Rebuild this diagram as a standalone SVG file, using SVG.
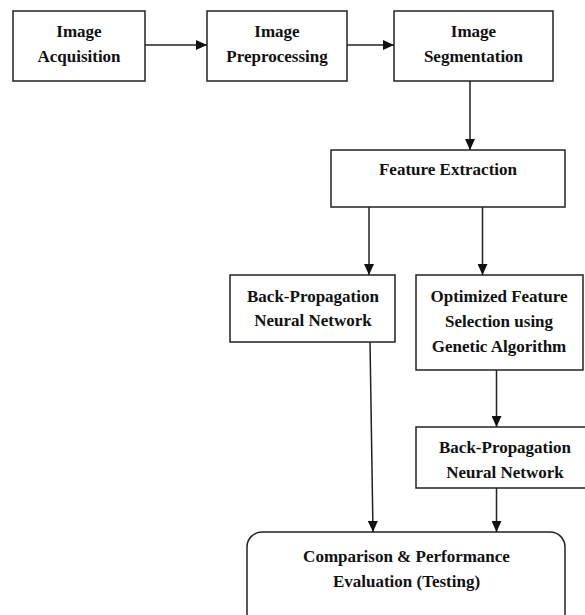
<svg xmlns="http://www.w3.org/2000/svg" width="585" height="615" viewBox="0 0 585 615">
<style>
.box{fill:#fff;stroke:#222;stroke-width:1.5}
.t{font-family:"Liberation Serif","Times New Roman",serif;font-weight:bold;font-size:17px;fill:#111;text-anchor:middle}
.c{stroke:#222;stroke-width:1.5;fill:none}
</style>
<defs>
<marker id="ah" markerUnits="userSpaceOnUse" markerWidth="12" markerHeight="10" refX="11" refY="5" orient="auto">
<path d="M0,0 L11,5 L0,10 Z" fill="#111"/>
</marker>
</defs>
<rect width="585" height="615" fill="#fff"/>
<g id="connectors">
<line class="c" x1="145" y1="45" x2="207" y2="45" marker-end="url(#ah)"/>
<line class="c" x1="347" y1="45" x2="394" y2="45" marker-end="url(#ah)"/>
<line class="c" x1="470" y1="81" x2="470" y2="150" marker-end="url(#ah)"/>
<line class="c" x1="369" y1="207" x2="369" y2="275" marker-end="url(#ah)"/>
<line class="c" x1="482.5" y1="207" x2="482.5" y2="275" marker-end="url(#ah)"/>
<line class="c" x1="370" y1="342" x2="373" y2="532" marker-end="url(#ah)"/>
<line class="c" x1="496.5" y1="370" x2="496.5" y2="427" marker-end="url(#ah)"/>
<line class="c" x1="496.5" y1="488" x2="496.5" y2="532" marker-end="url(#ah)"/>
</g>
<g id="acq">
<rect class="box" x="13" y="11" width="132" height="70"/>
<text class="t" x="79" y="37">Image</text>
<text class="t" x="79" y="62">Acquisition</text>
</g>
<g id="pre">
<rect class="box" x="207" y="11" width="140" height="70"/>
<text class="t" x="277" y="37">Image</text>
<text class="t" x="277" y="62">Preprocessing</text>
</g>
<g id="seg">
<rect class="box" x="394" y="11" width="159" height="70"/>
<text class="t" x="473.5" y="37">Image</text>
<text class="t" x="473.5" y="62">Segmentation</text>
</g>
<g id="fe">
<rect class="box" x="331" y="150" width="234" height="57"/>
<text class="t" x="448" y="175">Feature Extraction</text>
</g>
<g id="bpnn1">
<rect class="box" x="230" y="275" width="165" height="67"/>
<text class="t" x="313" y="302">Back-Propagation</text>
<text class="t" x="313" y="326">Neural Network</text>
</g>
<g id="ofs">
<rect class="box" x="416" y="275" width="167" height="95"/>
<text class="t" x="499" y="302">Optimized Feature</text>
<text class="t" x="499" y="327">Selection using</text>
<text class="t" x="499" y="352">Genetic Algorithm</text>
</g>
<g id="bpnn2">
<rect class="box" x="416" y="427" width="178" height="61"/>
<text class="t" x="505" y="453">Back-Propagation</text>
<text class="t" x="505" y="478">Neural Network</text>
</g>
<g id="cmp">
<rect class="box" x="247" y="532" width="318" height="100" rx="15" ry="15"/>
<text class="t" x="406.5" y="562">Comparison &amp; Performance</text>
<text class="t" x="406.5" y="587">Evaluation (Testing)</text>
</g>
</svg>
